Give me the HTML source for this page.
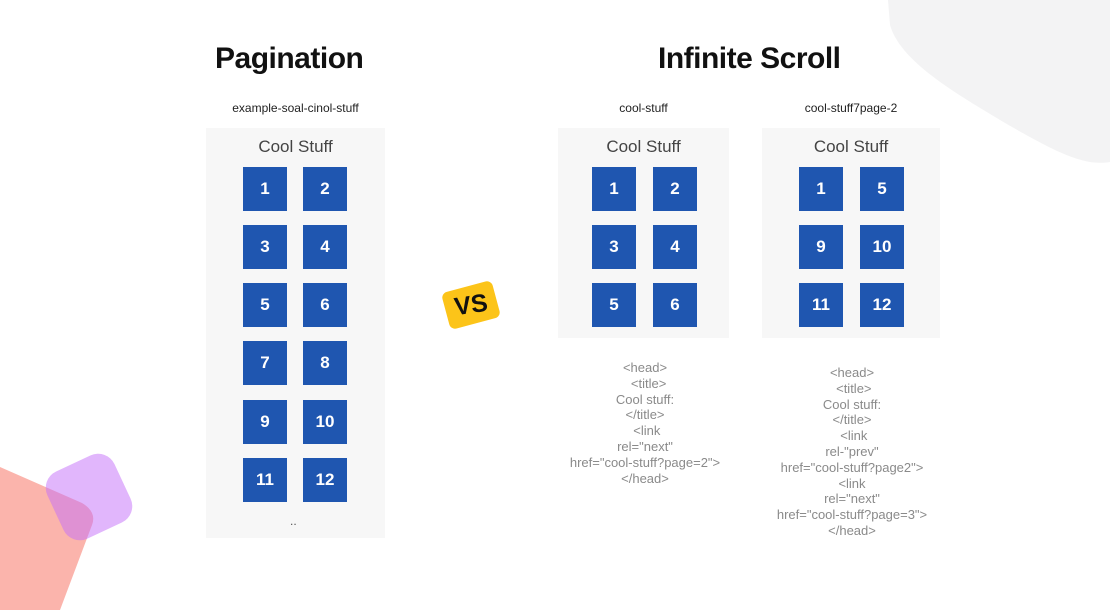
<!DOCTYPE html>
<html><head><meta charset="utf-8"><style>
*{margin:0;padding:0;box-sizing:border-box}
body{width:1110px;height:610px;position:relative;overflow:hidden;background:#fff;font-family:"Liberation Sans",sans-serif}
.a{position:absolute}
.t{position:absolute;font-weight:bold;font-size:30px;color:#111;letter-spacing:-0.5px;top:42px;white-space:nowrap}
.u{position:absolute;font-size:12px;color:#222;top:101px;white-space:nowrap;text-align:center}
.p{position:absolute;background:#f7f7f7}
.cs{position:absolute;font-size:17px;color:#444;text-align:center;white-space:nowrap}
.b{position:absolute;width:44px;height:44px;background:#1f56b0;color:#fff;font-weight:bold;font-size:17px;text-align:center;line-height:44px}
.code{position:absolute;font-size:13px;color:#8a8a8a;text-align:center;line-height:15.8px;white-space:nowrap}
</style></head><body>
<svg class="a" style="left:0;top:0" width="1110" height="610">
<path d="M888 0 L1110 0 L1110 162 C1085 166 1060 155 1000 120 C950 90 900 60 890 25 Z" fill="#f3f3f4"/>
<path d="M0 467 L82 503 Q97 512 92 525 L60 610 L0 610 Z" fill="#fbb4ac"/>
<rect x="52" y="460" width="74" height="74" rx="18" fill="rgba(195,110,250,0.5)" transform="rotate(-25 89 497)"/>
</svg>
<div class="t" style="left:215px">Pagination</div>
<div class="t" style="left:658px">Infinite Scroll</div>
<div class="u" style="left:206px;width:179px">example-soal-cinol-stuff</div>
<div class="u" style="left:558px;width:171px">cool-stuff</div>
<div class="u" style="left:762px;width:178px">cool-stuff7page-2</div>
<div class="p" style="left:206px;top:128px;width:179px;height:410px"></div>
<div class="p" style="left:558px;top:128px;width:171px;height:210px"></div>
<div class="p" style="left:762px;top:128px;width:178px;height:210px"></div>
<div class="cs" style="left:206px;width:179px;top:137px">Cool Stuff</div>
<div class="cs" style="left:558px;width:171px;top:137px">Cool Stuff</div>
<div class="cs" style="left:762px;width:178px;top:137px">Cool Stuff</div>
<div class="b" style="left:243px;top:167px">1</div><div class="b" style="left:303px;top:167px">2</div>
<div class="b" style="left:243px;top:225px">3</div><div class="b" style="left:303px;top:225px">4</div>
<div class="b" style="left:243px;top:283px">5</div><div class="b" style="left:303px;top:283px">6</div>
<div class="b" style="left:243px;top:341px">7</div><div class="b" style="left:303px;top:341px">8</div>
<div class="b" style="left:243px;top:400px">9</div><div class="b" style="left:303px;top:400px">10</div>
<div class="b" style="left:243px;top:458px">11</div><div class="b" style="left:303px;top:458px">12</div>
<div class="a" style="left:290px;top:514px;font-size:12px;color:#555">..</div>
<div class="b" style="left:592px;top:167px">1</div><div class="b" style="left:653px;top:167px">2</div>
<div class="b" style="left:592px;top:225px">3</div><div class="b" style="left:653px;top:225px">4</div>
<div class="b" style="left:592px;top:283px">5</div><div class="b" style="left:653px;top:283px">6</div>
<div class="b" style="left:799px;top:167px">1</div><div class="b" style="left:860px;top:167px">5</div>
<div class="b" style="left:799px;top:225px">9</div><div class="b" style="left:860px;top:225px">10</div>
<div class="b" style="left:799px;top:283px">11</div><div class="b" style="left:860px;top:283px">12</div>
<div class="a" style="left:445px;top:286px;width:52px;height:38px;background:#fcc419;border-radius:6px;transform:rotate(-15deg)"></div>
<div class="a" style="left:445px;top:286px;width:52px;height:38px;text-align:center;font-weight:bold;font-size:25px;line-height:38px;color:#111;transform:rotate(-8deg)">VS</div>
<div class="code" style="left:545px;width:200px;top:360px">&lt;head&gt;<br>&nbsp;&nbsp;&lt;title&gt;<br>Cool stuff:<br>&lt;/title&gt;<br>&nbsp;&lt;link<br>rel="next"<br>href="cool-stuff?page=2"&gt;<br>&lt;/head&gt;</div>
<div class="code" style="left:752px;width:200px;top:365px">&lt;head&gt;<br>&nbsp;&lt;title&gt;<br>Cool stuff:<br>&lt;/title&gt;<br>&nbsp;&lt;link<br>rel-"prev"<br>href="cool-stuff?page2"&gt;<br>&lt;link<br>rel="next"<br>href="cool-stuff?page=3"&gt;<br>&lt;/head&gt;</div>
</body></html>
